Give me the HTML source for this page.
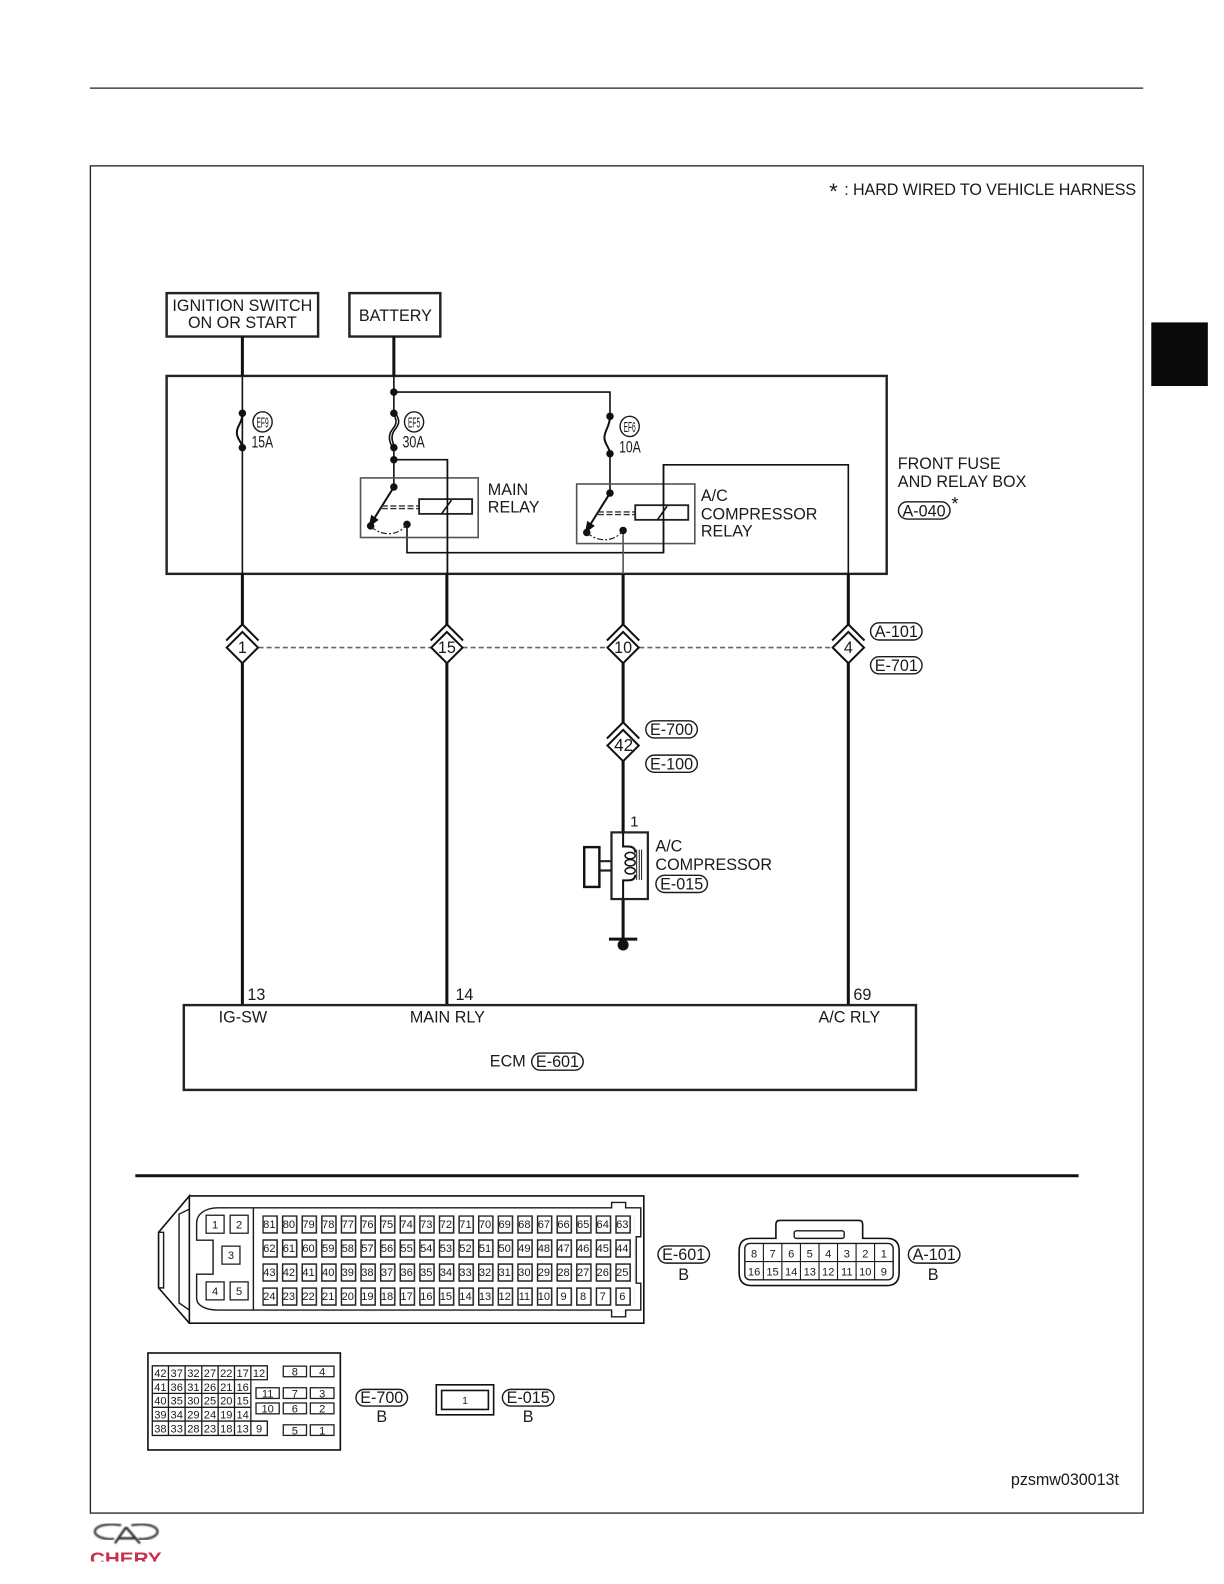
<!DOCTYPE html>
<html>
<head>
<meta charset="utf-8">
<style>
html,body{margin:0;padding:0;background:#fff;}
svg{display:block;width:1224px;height:1584px;}
text{font-family:"Liberation Sans",sans-serif;fill:#1a1a1a;}
.l{font-size:16px;}
.c{font-size:16px;text-anchor:middle;}
.n{font-size:11px;text-anchor:middle;}
.p{fill:none;stroke:#1a1a1a;stroke-width:1.4;}
.t{fill:none;stroke:#111;stroke-width:1.6;}
.k{fill:none;stroke:#111;stroke-width:3;}
.b{fill:none;stroke:#222;stroke-width:2.4;}
.g{fill:none;stroke:#555;stroke-width:1.6;}
.cell{fill:none;stroke:#222;stroke-width:1.3;}
.d{fill:#111;}
.w{fill:#fff;stroke:#111;stroke-width:2;}
</style>
</head>
<body>
<svg viewBox="0 0 1212 1568" xmlns="http://www.w3.org/2000/svg">
<defs>
<pattern id="pins" patternUnits="userSpaceOnUse" x="259.7" y="1203.1" width="19.42" height="23.8">
<rect x="0.7" y="0.7" width="14" height="16.8" fill="none" stroke="#222" stroke-width="1.5"/>
</pattern>
<clipPath id="cl"><rect x="80" y="1500" width="100" height="46"/></clipPath>
<filter id="soft" x="-5%" y="-5%" width="110%" height="110%"><feGaussianBlur stdDeviation="0.7"/></filter>
</defs>
<rect x="0" y="0" width="1212" height="1568" fill="#fff"/>

<line x1="89" y1="87" x2="1132" y2="87" stroke="#222" stroke-width="1.2"/>
<rect x="89.5" y="164" width="1042.5" height="1334" fill="none" stroke="#222" stroke-width="1.3"/>
<rect x="1140" y="319" width="56" height="63" fill="#0a0a0a"/>

<text x="821" y="197" style="font-size:22px">*</text>
<text x="836" y="193" class="l" textLength="289">: HARD WIRED TO VEHICLE HARNESS</text>

<!-- top boxes -->
<rect x="165" y="290" width="150" height="43" class="b"/>
<text x="240" y="307.500" class="c">IGNITION SWITCH</text>
<text x="240" y="324.500" class="c">ON OR START</text>
<rect x="346" y="290" width="90" height="43" class="b"/>
<text x="391.500" y="317.500" class="c">BATTERY</text>

<!-- fuse box -->
<rect x="165" y="372" width="713" height="196" class="b"/>
<text x="889" y="464" class="l">FRONT FUSE</text>
<text x="889" y="482" class="l">AND RELAY BOX</text>
<rect x="889.7" y="496.7" width="51" height="17" rx="8.5" class="p"/>
<text x="915" y="511" class="c">A-040</text>
<text x="942" y="505" style="font-size:18px">*</text>

<!-- heavy wires -->
<path class="k" d="M240 333V372M390 333V372M240 568V618M240 656V995M442.500 568V618M442.500 656V995M617 568V618M617 656V715M617 753V824M617 890V929M840 568V618M840 656V995"/>

<!-- fuse-box internal wiring -->
<path class="t" d="M240 372V568"/>
<path class="t" d="M390 372V409M390 443V482M390 388H604V412M604 449V488M390 455H443V568"/>
<path class="t" d="M403 519V547H657V460H840V568"/>
<path class="g" d="M617 525V568"/>
<!-- fuses -->
<path class="t" style="stroke-width:2" d="M240 409C240 419 234.500 421 234.500 428C234.500 435 239 436 240 443"/>
<path class="t" d="M388.800 409c6 8 3 12 -1 17c-4 6 -2 12 1 17M391.400 409c6 8 3 12 -1 17c-4 6 -2 12 1 17"/>
<path class="t" style="stroke-width:2" d="M604 412C604 422 598.500 426 598.500 433C598.500 440 603 441 604 449"/>
<circle cx="240" cy="409" r="3.700" class="d"/><circle cx="240" cy="443" r="3.700" class="d"/>
<circle cx="390" cy="388" r="3.700" class="d"/><circle cx="390" cy="409" r="3.700" class="d"/>
<circle cx="390" cy="443" r="3.700" class="d"/><circle cx="390" cy="455" r="3.700" class="d"/>
<circle cx="604" cy="412" r="3.700" class="d"/><circle cx="604" cy="449" r="3.700" class="d"/>
<ellipse cx="260" cy="417.500" rx="9.500" ry="10" class="p"/><ellipse cx="410" cy="417.500" rx="9.500" ry="10" class="p"/><ellipse cx="623.500" cy="422" rx="9.500" ry="10" class="p"/>
<text x="254" y="423" style="font-size:15px" textLength="12" lengthAdjust="spacingAndGlyphs">EF9</text>
<text x="404" y="423" style="font-size:15px" textLength="12" lengthAdjust="spacingAndGlyphs">EF5</text>
<text x="617.500" y="427.500" style="font-size:15px" textLength="12" lengthAdjust="spacingAndGlyphs">EF6</text>
<text x="249" y="443" style="font-size:16px" textLength="21.500" lengthAdjust="spacingAndGlyphs">15A</text>
<text x="398.500" y="443" style="font-size:16px" textLength="22" lengthAdjust="spacingAndGlyphs">30A</text>
<text x="613" y="448" style="font-size:16px" textLength="21.500" lengthAdjust="spacingAndGlyphs">10A</text>

<!-- main relay -->
<rect x="357" y="473" width="116.500" height="59" class="g"/>
<path class="t" style="stroke-width:2" d="M390 482L370 514"/>
<path class="d" d="M365 522L367.500 509.500L375 514.500Z"/>
<circle cx="390" cy="482" r="3.700" class="d"/>
<circle cx="367" cy="520.500" r="3.700" class="d"/>
<circle cx="403" cy="519" r="3.700" class="d"/>
<path d="M367 521C378 531 394 531 403 519" fill="none" stroke="#222" stroke-width="1.2" stroke-dasharray="6 2 2 2"/>
<path d="M378 500.700H415M378 503.300H415" fill="none" stroke="#333" stroke-width="1.4" stroke-dasharray="6 2.500"/>
<rect x="415" y="494" width="52.500" height="14.600" fill="#fff" stroke="#222" stroke-width="1.8"/>
<path class="t" d="M443 455V568M437.300 508.500L447 495"/>
<text x="483" y="490" class="l">MAIN</text>
<text x="483" y="507" class="l">RELAY</text>

<!-- ac relay -->
<rect x="571" y="479" width="117" height="59" class="g"/>
<path class="t" style="stroke-width:2" d="M604 488L584 520"/>
<path class="d" d="M579 528L581.500 515.500L589 520.500Z"/>
<circle cx="604" cy="488" r="3.700" class="d"/>
<circle cx="581" cy="527" r="3.700" class="d"/>
<circle cx="617" cy="525" r="3.700" class="d"/>
<path d="M581 527C592 537 608 537 617 525" fill="none" stroke="#222" stroke-width="1.2" stroke-dasharray="6 2 2 2"/>
<path d="M592 506.700H629M592 509.300H629" fill="none" stroke="#333" stroke-width="1.4" stroke-dasharray="6 2.500"/>
<rect x="629" y="500" width="52.500" height="14.500" fill="#fff" stroke="#222" stroke-width="1.8"/>
<path class="t" d="M657 460V547M651 514.500L660.500 501"/>
<text x="694" y="496" class="l">A/C</text>
<text x="694" y="514" class="l">COMPRESSOR</text>
<text x="694" y="531" class="l">RELAY</text>

<!-- dashed -->
<path d="M256 641H426M458 641H601M633 641H824" fill="none" stroke="#666" stroke-width="1.6" stroke-dasharray="5 3"/>

<!-- connectors -->
<path class="k" style="stroke-width:2" d="M224 634L240 618L256 634M426.500 634L442.500 618L458.500 634M601 634L617 618L633 634M824 634L840 618L856 634M601 731L617 715L633 731"/>
<path class="w" d="M240 625.500L255.500 641L240 656.500L224.500 641Z"/>
<path class="w" d="M442.500 625.500L458 641L442.500 656.500L427 641Z"/>
<path class="w" d="M617 625.500L632.500 641L617 656.500L601.500 641Z"/>
<path class="w" d="M840 625.500L855.500 641L840 656.500L824.500 641Z"/>
<path class="w" d="M617 722.500L632.500 738L617 753.500L601.500 738Z"/>
<text x="240" y="646.500" class="c">1</text>
<text x="442.500" y="646.500" class="c">15</text>
<text x="617" y="646.500" class="c">10</text>
<text x="840" y="646.500" class="c">4</text>
<text x="617.500" y="743.500" class="c" style="font-size:17px">42</text>

<rect x="862" y="616.500" width="51" height="17" rx="8.500" class="p"/><text x="887.500" y="630.500" class="c">A-101</text>
<rect x="862" y="650" width="51" height="17" rx="8.500" class="p"/><text x="887.500" y="664" class="c">E-701</text>
<rect x="639.500" y="713.500" width="51" height="17" rx="8.500" class="p"/><text x="665" y="727.500" class="c">E-700</text>
<rect x="639.500" y="747.500" width="51" height="17" rx="8.500" class="p"/><text x="665" y="761.500" class="c">E-100</text>

<!-- compressor -->
<text x="624" y="818" class="l" style="font-size:15px">1</text>
<rect x="605.500" y="824" width="36" height="66" fill="none" stroke="#222" stroke-width="2.200"/>
<rect x="578.500" y="838.600" width="15" height="39.400" fill="none" stroke="#111" stroke-width="2.400"/>
<path d="M593.500 852.500H605M593.500 861.700H605" fill="none" stroke="#222" stroke-width="2.200"/>
<path class="t" style="stroke-width:2" d="M617 824V838H622Q629 838 629 844M629 866Q629 871.500 622 871.500H617V890"/>
<ellipse cx="624" cy="847" rx="5" ry="3.200" class="t" style="stroke-width:1.500"/>
<ellipse cx="624" cy="854" rx="5" ry="3.200" class="t" style="stroke-width:1.500"/>
<ellipse cx="624" cy="862" rx="5" ry="3.200" class="t" style="stroke-width:1.500"/>
<path d="M630.400 841V871M633 841V871M635.300 841V871" fill="none" stroke="#222" stroke-width="1"/>
<path class="k" d="M603 929.700H631"/>
<circle cx="617" cy="935.500" r="5.500" class="d"/>
<text x="649" y="843" class="l">A/C</text>
<text x="649" y="861" class="l">COMPRESSOR</text>
<rect x="649.500" y="866.500" width="51" height="17" rx="8.500" class="p"/><text x="675" y="880.500" class="c">E-015</text>

<!-- ECM -->
<rect x="182" y="995" width="725" height="84" class="b"/>
<text x="245" y="990" class="l">13</text>
<text x="451" y="990" class="l">14</text>
<text x="845" y="990" class="l">69</text>
<text x="240.500" y="1012" class="c">IG-SW</text>
<text x="443" y="1012" class="c">MAIN RLY</text>
<text x="841" y="1012" class="c">A/C RLY</text>
<text x="485" y="1056" class="l">ECM</text>
<rect x="526.500" y="1042.500" width="51" height="17" rx="8.500" class="p"/><text x="552" y="1056.500" class="c">E-601</text>

<line x1="134" y1="1164" x2="1068" y2="1164" stroke="#111" stroke-width="3"/>

<!-- E-601 connector -->
<path class="t" d="M187.500 1184H637.500V1310H187.500V1184L157 1220V1275L187.500 1310"/>
<path class="p" d="M157 1220H162V1275H157"/>
<path class="p" d="M187.500 1197L177.300 1202V1290L187.500 1297"/>
<path class="p" d="M216 1195.700H605.600V1190.400H619.500V1195.700H634.500V1224.400H630V1270.400H634.500V1297H619.500V1303.700H605.600V1297H216C203 1297 194.700 1292 194.700 1285.500V1261.500H211V1227.800H194.700V1211C194.700 1202 203 1195.700 216 1195.700Z"/>
<path class="p" d="M250.900 1195.700V1297"/>
<rect x="204.100" y="1203.100" width="17.800" height="17.800" class="cell"/><text x="213" y="1216" class="n">1</text>
<rect x="227.900" y="1203.100" width="17.800" height="17.800" class="cell"/><text x="236.800" y="1216" class="n">2</text>
<rect x="219.800" y="1233.700" width="17.800" height="17.800" class="cell"/><text x="228.700" y="1246.600" class="n">3</text>
<rect x="204.100" y="1269.100" width="17.800" height="17.800" class="cell"/><text x="213" y="1282" class="n">4</text>
<rect x="227.900" y="1269.100" width="17.800" height="17.800" class="cell"/><text x="236.800" y="1282" class="n">5</text>
<rect x="259.700" y="1203.100" width="369" height="95" fill="url(#pins)"/>
<g>
<text class="n" x="266.7" y="1215.5">81</text><text class="n" x="286.1" y="1215.5">80</text><text class="n" x="305.5" y="1215.5">79</text><text class="n" x="325" y="1215.5">78</text><text class="n" x="344.4" y="1215.5">77</text><text class="n" x="363.8" y="1215.5">76</text><text class="n" x="383.2" y="1215.5">75</text><text class="n" x="402.6" y="1215.5">74</text><text class="n" x="422.1" y="1215.5">73</text><text class="n" x="441.5" y="1215.5">72</text><text class="n" x="460.9" y="1215.5">71</text><text class="n" x="480.3" y="1215.5">70</text><text class="n" x="499.7" y="1215.5">69</text><text class="n" x="519.2" y="1215.5">68</text><text class="n" x="538.6" y="1215.5">67</text><text class="n" x="558" y="1215.5">66</text><text class="n" x="577.4" y="1215.5">65</text><text class="n" x="596.8" y="1215.5">64</text><text class="n" x="616.2" y="1215.5">63</text>
<text class="n" x="266.7" y="1239.3">62</text><text class="n" x="286.1" y="1239.3">61</text><text class="n" x="305.5" y="1239.3">60</text><text class="n" x="325" y="1239.3">59</text><text class="n" x="344.4" y="1239.3">58</text><text class="n" x="363.8" y="1239.3">57</text><text class="n" x="383.2" y="1239.3">56</text><text class="n" x="402.6" y="1239.3">55</text><text class="n" x="422.1" y="1239.3">54</text><text class="n" x="441.5" y="1239.3">53</text><text class="n" x="460.9" y="1239.3">52</text><text class="n" x="480.3" y="1239.3">51</text><text class="n" x="499.7" y="1239.3">50</text><text class="n" x="519.2" y="1239.3">49</text><text class="n" x="538.6" y="1239.3">48</text><text class="n" x="558" y="1239.3">47</text><text class="n" x="577.4" y="1239.3">46</text><text class="n" x="596.8" y="1239.3">45</text><text class="n" x="616.2" y="1239.3">44</text>
<text class="n" x="266.7" y="1263.1">43</text><text class="n" x="286.1" y="1263.1">42</text><text class="n" x="305.5" y="1263.1">41</text><text class="n" x="325" y="1263.1">40</text><text class="n" x="344.4" y="1263.1">39</text><text class="n" x="363.8" y="1263.1">38</text><text class="n" x="383.2" y="1263.1">37</text><text class="n" x="402.6" y="1263.1">36</text><text class="n" x="422.1" y="1263.1">35</text><text class="n" x="441.5" y="1263.1">34</text><text class="n" x="460.9" y="1263.1">33</text><text class="n" x="480.3" y="1263.1">32</text><text class="n" x="499.7" y="1263.1">31</text><text class="n" x="519.2" y="1263.1">30</text><text class="n" x="538.6" y="1263.1">29</text><text class="n" x="558" y="1263.1">28</text><text class="n" x="577.4" y="1263.1">27</text><text class="n" x="596.8" y="1263.1">26</text><text class="n" x="616.2" y="1263.1">25</text>
<text class="n" x="266.7" y="1286.9">24</text><text class="n" x="286.1" y="1286.9">23</text><text class="n" x="305.5" y="1286.9">22</text><text class="n" x="325" y="1286.9">21</text><text class="n" x="344.4" y="1286.9">20</text><text class="n" x="363.8" y="1286.9">19</text><text class="n" x="383.2" y="1286.9">18</text><text class="n" x="402.6" y="1286.9">17</text><text class="n" x="422.1" y="1286.9">16</text><text class="n" x="441.5" y="1286.9">15</text><text class="n" x="460.9" y="1286.9">14</text><text class="n" x="480.3" y="1286.9">13</text><text class="n" x="499.7" y="1286.9">12</text><text class="n" x="519.2" y="1286.9">11</text><text class="n" x="538.6" y="1286.9">10</text><text class="n" x="558" y="1286.9">9</text><text class="n" x="577.4" y="1286.9">8</text><text class="n" x="596.8" y="1286.9">7</text><text class="n" x="616.2" y="1286.9">6</text>
</g>
<rect x="651.500" y="1233.500" width="51" height="17" rx="8.500" class="p"/><text x="677" y="1247.500" class="c">E-601</text>
<text x="677" y="1267" class="c">B</text>

<!-- A-101 connector -->
<path class="t" d="M768.300 1226V1212Q768.300 1208.200 772 1208.200H850.500Q854.200 1208.200 854.200 1212V1226H878Q890.300 1226 890.300 1238V1260Q890.300 1272.700 878 1272.700H744Q731.900 1272.700 731.900 1260V1238Q731.900 1226 744 1226Z"/>
<rect x="786.400" y="1218.500" width="49.500" height="7.500" rx="2" class="p"/>
<rect x="737.500" y="1231" width="146.900" height="36" rx="5" class="p"/>
<path class="p" style="stroke-width:1.1" d="M737.500 1249H884.400M755.900 1231V1267M774.200 1231V1267M792.600 1231V1267M811 1231V1267M829.300 1231V1267M847.700 1231V1267M866 1231V1267"/>
<g>
<text class="n" x="746.700" y="1245">8</text><text class="n" x="765" y="1245">7</text><text class="n" x="783.400" y="1245">6</text><text class="n" x="801.800" y="1245">5</text><text class="n" x="820.100" y="1245">4</text><text class="n" x="838.500" y="1245">3</text><text class="n" x="856.800" y="1245">2</text><text class="n" x="875.200" y="1245">1</text>
<text class="n" x="746.700" y="1263">16</text><text class="n" x="765" y="1263">15</text><text class="n" x="783.400" y="1263">14</text><text class="n" x="801.800" y="1263">13</text><text class="n" x="820.100" y="1263">12</text><text class="n" x="838.500" y="1263">11</text><text class="n" x="856.800" y="1263">10</text><text class="n" x="875.200" y="1263">9</text>
</g>
<rect x="899.500" y="1233.500" width="51" height="17" rx="8.500" class="p"/><text x="925" y="1247.500" class="c">A-101</text>
<text x="924" y="1267" class="c">B</text>

<!-- E-700 connector -->
<rect x="146.500" y="1339.500" width="190.500" height="96" class="t"/>
<path class="p" style="stroke-width:1.3" d="M150.800 1352.200H264.700V1366H248.400V1407H264.700V1421.100H150.800ZM150.800 1366H248.400M150.800 1379.500H248.400M150.800 1393.300H248.400M150.800 1406.900H264.700M166.800 1352.200V1421.100M183.300 1352.200V1421.100M199.800 1352.200V1421.100M216 1352.200V1421.100M232.200 1352.200V1421.100M248.400 1352.200V1421.100"/>
<g>
<text class="n" x="158.800" y="1363.500">42</text><text class="n" x="175" y="1363.500">37</text><text class="n" x="191.500" y="1363.500">32</text><text class="n" x="207.900" y="1363.500">27</text><text class="n" x="224.100" y="1363.500">22</text><text class="n" x="240.300" y="1363.500">17</text><text class="n" x="256.500" y="1363.500">12</text>
<text class="n" x="158.800" y="1377">41</text><text class="n" x="175" y="1377">36</text><text class="n" x="191.500" y="1377">31</text><text class="n" x="207.900" y="1377">26</text><text class="n" x="224.100" y="1377">21</text><text class="n" x="240.300" y="1377">16</text>
<text class="n" x="158.800" y="1390.500">40</text><text class="n" x="175" y="1390.500">35</text><text class="n" x="191.500" y="1390.500">30</text><text class="n" x="207.900" y="1390.500">25</text><text class="n" x="224.100" y="1390.500">20</text><text class="n" x="240.300" y="1390.500">15</text>
<text class="n" x="158.800" y="1404.300">39</text><text class="n" x="175" y="1404.300">34</text><text class="n" x="191.500" y="1404.300">29</text><text class="n" x="207.900" y="1404.300">24</text><text class="n" x="224.100" y="1404.300">19</text><text class="n" x="240.300" y="1404.300">14</text>
<text class="n" x="158.800" y="1418">38</text><text class="n" x="175" y="1418">33</text><text class="n" x="191.500" y="1418">28</text><text class="n" x="207.900" y="1418">23</text><text class="n" x="224.100" y="1418">18</text><text class="n" x="240.300" y="1418">13</text><text class="n" x="256.500" y="1418">9</text>
</g>
<g>
<rect x="280.500" y="1352.500" width="23" height="10.500" class="cell"/><text class="n" x="292" y="1362">8</text>
<rect x="307.300" y="1352.500" width="23.400" height="10.500" class="cell"/><text class="n" x="319" y="1362">4</text>
<rect x="253.500" y="1373.900" width="23" height="10.600" class="cell"/><text class="n" x="265" y="1383.500">11</text>
<rect x="280.500" y="1373.900" width="23" height="10.600" class="cell"/><text class="n" x="292" y="1383.500">7</text>
<rect x="307.300" y="1373.900" width="23.400" height="10.600" class="cell"/><text class="n" x="319" y="1383.500">3</text>
<rect x="253.500" y="1389" width="23" height="10.700" class="cell"/><text class="n" x="265" y="1398.500">10</text>
<rect x="280.500" y="1389" width="23" height="10.700" class="cell"/><text class="n" x="292" y="1398.500">6</text>
<rect x="307.300" y="1389" width="23.400" height="10.700" class="cell"/><text class="n" x="319" y="1398.500">2</text>
<rect x="280.500" y="1410.600" width="23" height="10.500" class="cell"/><text class="n" x="292" y="1420">5</text>
<rect x="307.300" y="1410.600" width="23.400" height="10.500" class="cell"/><text class="n" x="319" y="1420">1</text>
</g>
<rect x="352.500" y="1375.500" width="51" height="16.500" rx="8.200" class="p"/><text x="378" y="1389" class="c">E-700</text>
<text x="378" y="1408" class="c">B</text>

<!-- E-015 connector -->
<rect x="432" y="1371" width="56.800" height="29.700" class="t"/>
<rect x="437.300" y="1376.600" width="46.300" height="18.800" class="t"/>
<text class="n" x="460.500" y="1390" style="font-size:10px">1</text>
<rect x="497.500" y="1375.500" width="51" height="16.500" rx="8.200" class="p"/><text x="523" y="1389" class="c">E-015</text>
<text x="523" y="1408" class="c">B</text>

<text x="1001" y="1470" class="l" textLength="107">pzsmw030013t</text>

<!-- logo -->
<g clip-path="url(#cl)">
<path d="M120 1510C103 1507 94 1512 94 1516.500C94 1521 104 1525 113 1523.500M130 1510C147 1507 156 1512 156 1516.500C156 1521 146 1525 137 1523.500" fill="none" stroke="#444" stroke-width="2.400" filter="url(#soft)"/>
<path d="M124.800 1512L113.800 1528M124.800 1512L138.600 1528M117 1523H134" fill="none" stroke="#333" stroke-width="2.400" filter="url(#soft)"/>
<text x="89" y="1549" style="font-size:17px;font-weight:bold;fill:#c8304c" textLength="71" lengthAdjust="spacingAndGlyphs">CHERY</text>
</g>
</svg>
</body>
</html>
